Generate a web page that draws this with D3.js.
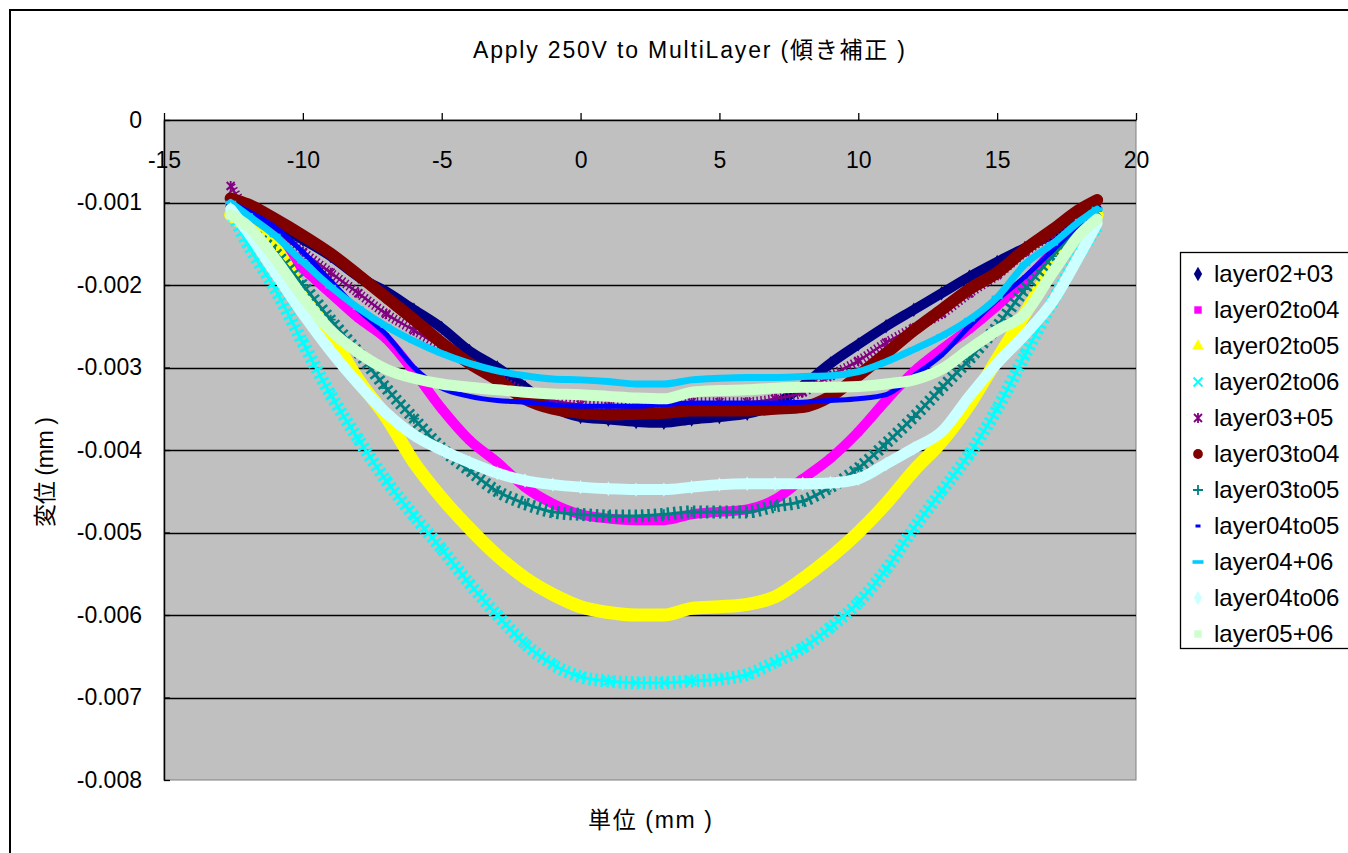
<!DOCTYPE html>
<html>
<head>
<meta charset="utf-8">
<script src="https://cdn.jsdelivr.net/npm/d3@7"></script>
<style>
  body { margin: 0; background: #fff; }
  svg { display: block; }
  text { font-family: "Liberation Sans", Arial, "Noto Sans CJK JP", sans-serif; fill: #000; }
</style>
</head>
<body>
<svg id="chart" width="1348" height="853"></svg>
<script>
// Measurement positions along the sample (mm)
const positions = [-12.6, -12, -11, -10, -9, -8, -7, -6, -5, -4, -3, -2, -1, 0, 1, 2, 3, 4, 5, 6, 7, 8, 9, 10, 11, 12, 13, 14, 15, 16, 17, 18, 18.6];

// Displacement (mm) for each layer combination
const layer02p03 = [-0.00105, -0.00112, -0.00128, -0.00145, -0.00165, -0.00190, -0.00208, -0.00230, -0.00252, -0.00280, -0.00300, -0.00324, -0.00348, -0.00360, -0.00363, -0.00366, -0.00367, -0.00363, -0.00360, -0.00356, -0.00345, -0.00322, -0.00295, -0.00272, -0.00250, -0.00230, -0.00210, -0.00190, -0.00172, -0.00155, -0.00138, -0.00118, -0.00108];
const layer02to04 = [-0.00110, -0.00125, -0.00150, -0.00180, -0.00210, -0.00240, -0.00265, -0.00305, -0.00350, -0.00388, -0.00415, -0.00445, -0.00465, -0.00478, -0.00483, -0.00485, -0.00485, -0.00478, -0.00475, -0.00472, -0.00460, -0.00435, -0.00410, -0.00378, -0.00340, -0.00305, -0.00278, -0.00253, -0.00225, -0.00195, -0.00160, -0.00128, -0.00112];
const layer02to05 = [-0.00115, -0.00130, -0.00155, -0.00210, -0.00260, -0.00315, -0.00360, -0.00415, -0.00458, -0.00495, -0.00528, -0.00555, -0.00575, -0.00590, -0.00597, -0.00600, -0.00600, -0.00592, -0.00590, -0.00587, -0.00578, -0.00556, -0.00530, -0.00500, -0.00465, -0.00425, -0.00390, -0.00345, -0.00290, -0.00235, -0.00178, -0.00132, -0.00115];
const layer02to06 = [-0.00110, -0.00150, -0.00205, -0.00270, -0.00333, -0.00387, -0.00437, -0.00480, -0.00520, -0.00562, -0.00600, -0.00635, -0.00660, -0.00675, -0.00680, -0.00682, -0.00682, -0.00680, -0.00678, -0.00672, -0.00657, -0.00640, -0.00615, -0.00585, -0.00545, -0.00495, -0.00450, -0.00405, -0.00350, -0.00285, -0.00220, -0.00160, -0.00130];
const layer03p05 = [-0.00080, -0.00110, -0.00135, -0.00160, -0.00185, -0.00210, -0.00235, -0.00255, -0.00275, -0.00295, -0.00312, -0.00330, -0.00340, -0.00345, -0.00347, -0.00347, -0.00345, -0.00342, -0.00342, -0.00342, -0.00338, -0.00330, -0.00310, -0.00292, -0.00270, -0.00252, -0.00235, -0.00210, -0.00188, -0.00160, -0.00138, -0.00115, -0.00105];
const layer03to04 = [-0.00095, -0.00102, -0.00120, -0.00140, -0.00162, -0.00188, -0.00215, -0.00242, -0.00270, -0.00295, -0.00315, -0.00338, -0.00350, -0.00355, -0.00357, -0.00356, -0.00355, -0.00352, -0.00352, -0.00352, -0.00350, -0.00348, -0.00335, -0.00310, -0.00283, -0.00255, -0.00230, -0.00205, -0.00185, -0.00157, -0.00133, -0.00108, -0.00097];
const layer03to05 = [-0.00105, -0.00130, -0.00160, -0.00200, -0.00242, -0.00282, -0.00325, -0.00362, -0.00398, -0.00425, -0.00450, -0.00465, -0.00475, -0.00478, -0.00480, -0.00480, -0.00478, -0.00475, -0.00475, -0.00475, -0.00468, -0.00462, -0.00445, -0.00422, -0.00392, -0.00360, -0.00325, -0.00290, -0.00250, -0.00205, -0.00165, -0.00130, -0.00110];
const layer04to05 = [-0.00100, -0.00110, -0.00130, -0.00160, -0.00195, -0.00230, -0.00260, -0.00300, -0.00325, -0.00335, -0.00340, -0.00342, -0.00345, -0.00347, -0.00347, -0.00347, -0.00345, -0.00343, -0.00343, -0.00343, -0.00343, -0.00342, -0.00340, -0.00338, -0.00333, -0.00310, -0.00285, -0.00250, -0.00218, -0.00190, -0.00158, -0.00125, -0.00107];
const layer04p06 = [-0.00100, -0.00115, -0.00140, -0.00172, -0.00202, -0.00228, -0.00250, -0.00268, -0.00283, -0.00295, -0.00304, -0.00310, -0.00314, -0.00315, -0.00317, -0.00320, -0.00320, -0.00315, -0.00313, -0.00312, -0.00312, -0.00311, -0.00310, -0.00305, -0.00293, -0.00278, -0.00262, -0.00242, -0.00215, -0.00175, -0.00150, -0.00122, -0.00108];
const layer04to06 = [-0.00108, -0.00135, -0.00185, -0.00235, -0.00280, -0.00320, -0.00355, -0.00382, -0.00400, -0.00415, -0.00428, -0.00437, -0.00442, -0.00445, -0.00447, -0.00448, -0.00448, -0.00445, -0.00442, -0.00441, -0.00441, -0.00441, -0.00440, -0.00435, -0.00417, -0.00398, -0.00378, -0.00335, -0.00295, -0.00260, -0.00220, -0.00162, -0.00125];
const layer05p06 = [-0.00115, -0.00128, -0.00168, -0.00215, -0.00255, -0.00282, -0.00302, -0.00313, -0.00320, -0.00324, -0.00327, -0.00330, -0.00332, -0.00333, -0.00335, -0.00337, -0.00338, -0.00330, -0.00328, -0.00327, -0.00325, -0.00324, -0.00324, -0.00323, -0.00320, -0.00315, -0.00302, -0.00278, -0.00255, -0.00235, -0.00185, -0.00138, -0.00120];

const seriesNames = ["layer02+03", "layer02to04", "layer02to05", "layer02to06", "layer03+05", "layer03to04", "layer03to05", "layer04to05", "layer04+06", "layer04to06", "layer05+06"];
const seriesValues = [layer02p03, layer02to04, layer02to05, layer02to06, layer03p05, layer03to04, layer03to05, layer04to05, layer04p06, layer04to06, layer05p06];

const xTicks = [-15, -10, -5, 0, 5, 10, 15, 20];
const yTicks = [0, -0.001, -0.002, -0.003, -0.004, -0.005, -0.006, -0.007, -0.008];

const chartTitle = "Apply 250V to MultiLayer (傾き補正 )";
const xTitle = "単位 (mm )";
const yTitle = "変位 (mm )";

// Marker and band appearance for each series (in drawing order)
const looks = [
  { color: "#000080", marker: "diamond",  band: 10 },
  { color: "#FF00FF", marker: "square",   band: 10 },
  { color: "#FFFF00", marker: "triangle", band: 13 },
  { color: "#00FFFF", marker: "x",        band: 3, ladder: 13, dash: "2.5,3.5" },
  { color: "#800080", marker: "asterisk", band: 2.5, ladder: 10, dash: "1.5,2.5" },
  { color: "#800000", marker: "circle",   band: 12 },
  { color: "#008080", marker: "plus",     band: 3, ladder: 13, dash: "2.5,4" },
  { color: "#0000FF", marker: "shortdash", band: 5 },
  { color: "#00CCFF", marker: "longdash", band: 7 },
  { color: "#CCFFFF", marker: "diamond",  band: 11 },
  { color: "#CCFFCC", marker: "square",   band: 11 }
];

function markerPath(type) {
  switch (type) {
    case "diamond":  return d3.symbol(d3.symbolDiamond, 60)();
    case "square":   return d3.symbol(d3.symbolSquare, 55)();
    case "triangle": return d3.symbol(d3.symbolTriangle, 60)();
    case "circle":   return d3.symbol(d3.symbolCircle, 75)();
    case "x":        return "M-4.5,-4.5L4.5,4.5M-4.5,4.5L4.5,-4.5";
    case "asterisk": return "M-4,-4L4,4M-4,4L4,-4M0,-5L0,5";
    case "plus":     return "M-5,0L5,0M0,-5L0,5";
    case "shortdash": return "M-2.5,-1.5h5v3h-5z";
    case "longdash": return "M-5.5,-1.8h11v3.6h-11z";
  }
}
const strokedMarkers = new Set(["x", "asterisk", "plus"]);

const svg = d3.select("#chart");

// Chart area frame
svg.append("rect")
  .attr("x", 10).attr("y", 10).attr("width", 1400).attr("height", 900)
  .attr("fill", "#fff").attr("stroke", "#000").attr("stroke-width", 2);

const x = d3.scaleLinear().domain([-15, 20]).range([164, 1136]);
const y = d3.scaleLinear().domain([-0.008, 0]).range([780, 120]);

// Plot area
svg.append("rect")
  .attr("x", x(-15)).attr("y", y(0))
  .attr("width", x(20) - x(-15)).attr("height", y(-0.008) - y(0))
  .attr("fill", "#C0C0C0").attr("stroke", "#808080").attr("stroke-width", 1);

// Horizontal gridlines
svg.append("g").selectAll("line")
  .data(yTicks.filter(v => v !== 0 && v !== -0.008))
  .join("line")
  .attr("x1", x(-15)).attr("x2", x(20))
  .attr("y1", d => Math.round(y(d)) + 0.5).attr("y2", d => Math.round(y(d)) + 0.5)
  .attr("stroke", "#000").attr("stroke-width", 1.3);

// Series
const line = d3.line()
  .x((d, i) => x(positions[i]))
  .y(d => y(d))
  .curve(d3.curveMonotoneX);

const seriesG = svg.append("g");
seriesValues.forEach((vals, si) => {
  const look = looks[si];
  const g = seriesG.append("g");
  if (look.ladder) {
    g.append("path").attr("d", line(vals))
      .attr("fill", "none").attr("stroke", look.color)
      .attr("stroke-width", look.ladder).attr("stroke-dasharray", look.dash);
  }
  g.append("path").attr("d", line(vals))
    .attr("fill", "none").attr("stroke", look.color)
    .attr("stroke-width", look.band)
    .attr("stroke-linejoin", "round").attr("stroke-linecap", "round");
  const stroked = strokedMarkers.has(look.marker);
  g.selectAll("path.m").data(vals).join("path")
    .attr("class", "m")
    .attr("transform", (d, i) => `translate(${x(positions[i])},${y(d)})`)
    .attr("d", markerPath(look.marker))
    .attr("fill", stroked ? "none" : look.color)
    .attr("stroke", stroked ? look.color : "none")
    .attr("stroke-width", stroked ? 1.8 : 0);
});

// X axis along the zero line, labels below it
const xAxis = svg.append("g")
  .attr("transform", `translate(0,${y(0)})`)
  .call(d3.axisTop(x).tickValues(xTicks).tickSize(7).tickSizeOuter(0).tickFormat(d => String(d)));
xAxis.select(".domain").attr("stroke", "#000").attr("stroke-width", 1.5);
xAxis.selectAll(".tick line").attr("stroke", "#000").attr("stroke-width", 1.3);
xAxis.selectAll(".tick text")
  .attr("y", 40).attr("dy", "0.35em")
  .attr("font-size", 23).attr("font-family", null);

// Y axis
const yAxis = svg.append("g")
  .attr("transform", `translate(${x(-15)},0)`)
  .call(d3.axisLeft(y).tickValues(yTicks).tickSize(-6).tickSizeOuter(0).tickPadding(22)
    .tickFormat(d => d === 0 ? "0" : d.toFixed(3)));
yAxis.select(".domain").attr("stroke", "#000").attr("stroke-width", 1.5);
yAxis.selectAll(".tick line").attr("stroke", "#000").attr("stroke-width", 1.3);
yAxis.selectAll(".tick text").attr("font-size", 23).attr("font-family", null);

// Titles
svg.append("text").attr("x", 689).attr("y", 50).attr("dy", "0.35em")
  .attr("text-anchor", "middle").attr("font-size", 23)
  .attr("textLength", 432).attr("lengthAdjust", "spacing").text(chartTitle);
svg.append("text").attr("x", 650).attr("y", 820).attr("dy", "0.35em")
  .attr("text-anchor", "middle").attr("font-size", 23)
  .attr("textLength", 124).attr("lengthAdjust", "spacing").text(xTitle);
svg.append("text").attr("transform", "translate(45,472) rotate(-90)").attr("dy", "0.35em")
  .attr("text-anchor", "middle").attr("font-size", 23)
  .attr("textLength", 110).attr("lengthAdjust", "spacing").text(yTitle);

// Legend
const legend = svg.append("g");
legend.append("rect")
  .attr("x", 1180.5).attr("y", 252.5).attr("width", 220).attr("height", 396)
  .attr("fill", "#fff").attr("stroke", "#000").attr("stroke-width", 1.3);
seriesNames.forEach((name, i) => {
  const look = looks[i];
  const cy = 274 + i * 36;
  const stroked = strokedMarkers.has(look.marker);
  legend.append("path")
    .attr("transform", `translate(1198,${cy})`)
    .attr("d", markerPath(look.marker))
    .attr("fill", stroked ? "none" : look.color)
    .attr("stroke", stroked ? look.color : "none")
    .attr("stroke-width", stroked ? 1.8 : 0);
  legend.append("text").attr("x", 1214).attr("y", cy).attr("dy", "0.35em")
    .attr("font-size", 24).text(name);
});
</script>
</body>
</html>
